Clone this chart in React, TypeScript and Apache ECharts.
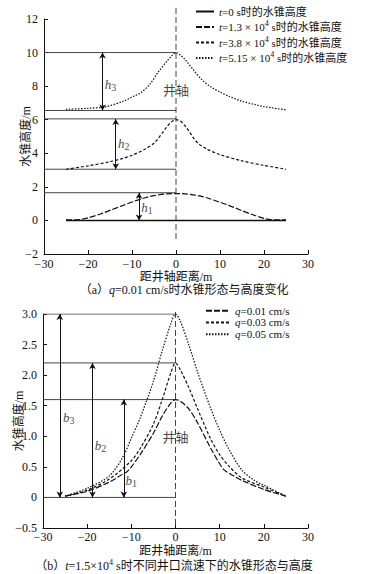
import React, { useEffect, useRef } from "react";
import * as echarts from "echarts";

// ---------- data: chart (a) ----------
const namesA = ["t0", "t13", "t38", "t515"];
const legendTextA = [
  "{i|t}=0 s时的水锥高度",
  "{i|t}=1.3 × 10{sup|4} s时的水锥高度",
  "{i|t}=3.8 × 10{sup|4} s时的水锥高度",
  "{i|t}=5.15 × 10{sup|4} s时的水锥高度",
];
const xA0 = [-25, 25];
const yA0 = [0, 0];
const xA1 = [-25, -22, -20, -17, -15, -12, -10, -7, -5, -2, 0, 2, 5, 7, 10, 12, 15, 17, 20, 22, 25];
const yA1 = [0.03, 0.05, 0.15, 0.4, 0.6, 0.9, 1.1, 1.35, 1.48, 1.58, 1.6, 1.58, 1.48, 1.35, 1.08, 0.9, 0.58, 0.38, 0.12, 0.04, 0.04];
const xA2 = [-25, -20, -15, -12, -10, -7, -5, -4, -3, -2, -1, 0, 1, 2, 3, 4, 5, 7, 10, 15, 20, 25];
const yA2 = [3.05, 3.25, 3.5, 3.7, 3.88, 4.25, 4.6, 4.9, 5.25, 5.6, 5.88, 6.0, 5.92, 5.65, 5.3, 4.9, 4.6, 4.25, 3.92, 3.55, 3.28, 3.05];
const xA3 = [-25, -20, -16, -12, -10, -8, -6, -4, -2, -1, 0, 1, 2, 4, 6, 8, 10, 12, 15, 18, 20, 22, 25];
const yA3 = [6.62, 6.68, 6.77, 7.1, 7.35, 7.6, 8.1, 8.85, 9.5, 9.8, 10.0, 9.85, 9.6, 8.95, 8.35, 7.95, 7.65, 7.4, 7.1, 6.9, 6.78, 6.7, 6.58];
const levelsA = [10, 6.55, 6.05, 3.05, 1.65];
const arrowXA = [-16.7, -13.7, -8.4];
const arrowLowA = [6.55, 3.05, 0];
const arrowHighA = [10, 6.05, 1.65];
const hLabelX = [-16.2, -13.2, -7.9];
const hLabelY = [8.1, 4.56, 0.79];
const hLabelText = ["{hi|h}{sub|3}", "{hi|h}{sub|2}", "{hi|h}{sub|1}"];
const axisLineXA = [0, 0];
const axisLineYA = [-1.1, 12.85];
const wellLabelA = [0, 7.75];

// ---------- data: chart (b) ----------
const namesB = ["q01", "q03", "q05"];
const legendTextB = ["{i|q}=0.01 cm/s", "{i|q}=0.03 cm/s", "{i|q}=0.05 cm/s"];
const xB1 = [-25, -20, -15, -12, -11, -10, -8, -5, -3, -1, 0, 1, 3, 5, 8, 10, 11, 13, 15, 20, 25];
const yB1 = [0.02, 0.1, 0.25, 0.38, 0.42, 0.5, 0.7, 1.05, 1.33, 1.55, 1.6, 1.58, 1.45, 1.22, 0.8, 0.55, 0.45, 0.36, 0.28, 0.13, 0.02];
const xB2 = [-25, -20, -15, -10, -8, -5, -3, -1, 0, 1, 3, 5, 8, 10, 12, 15, 20, 25];
const yB2 = [0.02, 0.12, 0.3, 0.6, 0.8, 1.2, 1.6, 2.05, 2.2, 2.1, 1.8, 1.45, 0.95, 0.7, 0.52, 0.32, 0.17, 0.02];
const xB3 = [-25, -20, -15, -12, -10, -8, -5, -3, -1, 0, 1, 3, 5, 8, 10, 12, 15, 18, 20, 25];
const yB3 = [0.02, 0.15, 0.35, 0.65, 0.97, 1.3, 1.9, 2.4, 2.85, 3.0, 2.9, 2.5, 2.05, 1.45, 1.1, 0.8, 0.45, 0.27, 0.2, 0.02];
const levelsB = [3.0, 2.2, 1.6, 0];
const arrowXB = [-26.2, -18.8, -11.7];
const arrowLowB = [0, 0, 0];
const arrowHighB = [3.0, 2.2, 1.6];
const bLabelX = [-25.5, -18.3, -11.3];
const bLabelY = [1.3, 0.85, 0.27];
const bLabelText = ["{hi|b}{sub|3}", "{hi|b}{sub|2}", "{hi|b}{sub|1}"];
const axisLineXB = [0, 0];
const axisLineYB = [-0.45, 3.05];
const wellLabelB = [0, 0.98];

const FONT = "'Liberation Serif', 'Noto Sans CJK SC', serif";
const INK = "#111";
const REF = "#444";

const zip = (xs: number[], ys: number[]) => xs.map((x, i) => [x, ys[i]]);
const minus = (v: number | string) => String(v).replace("-", "−");

const richBase = (lh: number, fs: number) => ({
  i: { fontStyle: "italic", fontFamily: FONT, fontSize: fs, lineHeight: lh, color: INK },
  sup: { fontSize: fs - 3, fontFamily: FONT, verticalAlign: "top", lineHeight: lh, color: INK },
});

export default function App() {
  const ref = useRef<HTMLDivElement>(null);
  useEffect(() => {
    if (!ref.current) return;
    const chart = echarts.init(ref.current, undefined, { renderer: "svg" });

    const xAxisBase = (gi: number, gap: number, lm: number) => ({
      type: "value",
      gridIndex: gi,
      min: -30,
      max: 30,
      interval: 10,
      name: "距井轴距离/m",
      nameLocation: "middle",
      nameGap: gap,
      nameMoveOverlap: false,
      nameTextStyle: { fontFamily: FONT, fontSize: 12, color: INK },
      axisLine: { onZero: false, lineStyle: { color: INK, width: 1 } },
      axisTick: { inside: true, length: 4, lineStyle: { color: INK } },
      axisLabel: { margin: lm, fontFamily: FONT, fontSize: 12, color: INK, formatter: (v: number) => minus(v) },
      splitLine: { show: false },
    });
    const yAxisBase = (gi: number, min: number, max: number, interval: number, gap: number, fmt: (v: number) => string) => ({
      type: "value",
      gridIndex: gi,
      min,
      max,
      interval,
      name: "水锥高度/m",
      nameLocation: "middle",
      nameRotate: 90,
      nameGap: gap,
      nameMoveOverlap: false,
      nameTextStyle: { fontFamily: FONT, fontSize: 12, color: INK },
      axisLine: { show: true, onZero: false, lineStyle: { color: INK, width: 1 } },
      axisTick: { show: true, inside: true, length: 4, lineStyle: { color: INK } },
      axisLabel: { margin: 6, fontFamily: FONT, fontSize: 12, color: INK, formatter: fmt },
      splitLine: { show: false },
    });

    const curve = (name: string, data: number[][], gi: number, type: any, width = 1.2) => ({
      name,
      type: "line",
      xAxisIndex: gi,
      yAxisIndex: gi,
      data,
      symbol: "none",
      smooth: 0.3,
      lineStyle: { color: INK, width, type },
      itemStyle: { color: INK },
      z: 3,
    });
    const refLine = (y: number, gi: number) => ({
      type: "line",
      xAxisIndex: gi,
      yAxisIndex: gi,
      data: [[-30, y], [0, y]],
      symbol: "none",
      silent: true,
      lineStyle: { color: REF, width: 1 },
      z: 2,
    });
    const arrows = (gi: number, xs: number[], lo: number[], hi: number[]) => ({
      type: "line",
      xAxisIndex: gi,
      yAxisIndex: gi,
      data: [],
      silent: true,
      markLine: {
        silent: true,
        symbol: ["arrow", "arrow"],
        symbolSize: [5, 6],
        label: { show: false },
        lineStyle: { color: INK, width: 1, type: "solid" },
        data: xs.map((x, i) => [{ coord: [x, lo[i]] }, { coord: [x, hi[i]] }]),
      },
    });
    const vline = (gi: number, xs: number[], ys: number[]) => ({
      type: "line",
      xAxisIndex: gi,
      yAxisIndex: gi,
      data: zip(xs, ys),
      symbol: "none",
      clip: false,
      silent: true,
      lineStyle: { color: REF, width: 1, type: [6, 3] },
      z: 1,
    });
    const labels = (gi: number, xs: number[], ys: number[], texts: string[], well: number[]) => ({
      type: "scatter",
      xAxisIndex: gi,
      yAxisIndex: gi,
      symbolSize: 0,
      silent: true,
      z: 5,
      data: [
        ...xs.map((x, i) => ({
          value: [x, ys[i]],
          label: {
            show: true,
            position: "right",
            distance: 0,
            formatter: texts[i],
            rich: {
              hi: { fontStyle: "italic", fontFamily: FONT, fontSize: 13, color: INK, lineHeight: 16 },
              sub: { fontFamily: FONT, fontSize: 10, color: INK, verticalAlign: "bottom", lineHeight: 10 },
            },
          },
        })),
        {
          value: well,
          label: { show: true, position: "inside", formatter: "井轴", fontFamily: FONT, fontSize: 13, color: INK },
        },
      ],
    });

    const legend = (names: string[], texts: string[], left: number, top: number, iw: number, lh: number, fs: number) => ({
      orient: "vertical",
      left,
      top,
      padding: 0,
      itemWidth: iw,
      itemHeight: 8,
      itemGap: 0.5,
      data: names,
      selectedMode: false,
      itemStyle: { color: "rgba(0,0,0,0)", borderColor: "rgba(0,0,0,0)", borderWidth: 0 },
      textStyle: { fontFamily: FONT, fontSize: fs, color: INK, lineHeight: lh, rich: richBase(lh, fs) },
      formatter: (n: string) => texts[names.indexOf(n)],
    });

    const option: any = {
      animation: false,
      backgroundColor: "#fff",
      grid: [
        { left: 44, top: 19, width: 264, height: 235 },
        { left: 43, top: 314, width: 265, height: 214 },
      ],
      xAxis: [xAxisBase(0, 17, 4), xAxisBase(1, 17, 3)],
      yAxis: [
        yAxisBase(0, -2, 12, 2, 12, (v: number) => minus(v)),
        yAxisBase(1, -0.5, 3, 0.5, 18, (v: number) => (v === 0 ? "0" : minus(v.toFixed(1)))),
      ],
      legend: [
        legend(namesA, legendTextA, 195, 4, 18, 15, 11),
        legend(namesB, legendTextB, 205, 305, 24, 11.3, 11),
      ],
      graphic: [
        {
          type: "text",
          x: 184,
          y: 289.5,
          style: {
            text: "（a）{i|q}=0.01 cm/s时水锥形态与高度变化",
            fontFamily: FONT,
            fontSize: 12,
            fill: INK,
            align: "center",
            verticalAlign: "middle",
            rich: { i: { fontStyle: "italic", fontFamily: FONT, fontSize: 12 } },
          },
        },
        {
          type: "text",
          x: 174,
          y: 566,
          style: {
            text: "（b）{i|t}=1.5×10{sup|4} s时不同井口流速下的水锥形态与高度",
            fontFamily: FONT,
            fontSize: 12,
            fill: INK,
            align: "center",
            verticalAlign: "middle",
            rich: {
              i: { fontStyle: "italic", fontFamily: FONT, fontSize: 12, lineHeight: 15 },
              sup: { fontFamily: FONT, fontSize: 8, verticalAlign: "top", lineHeight: 15 },
            },
          },
        },
      ],
      series: [
        curve(namesA[0], zip(xA0, yA0), 0, "solid", 1.4),
        curve(namesA[1], zip(xA1, yA1), 0, [6, 2]),
        curve(namesA[2], zip(xA2, yA2), 0, [3, 2]),
        curve(namesA[3], zip(xA3, yA3), 0, [1.5, 1.5]),
        ...levelsA.map((y) => refLine(y, 0)),
        arrows(0, arrowXA, arrowLowA, arrowHighA),
        vline(0, axisLineXA, axisLineYA),
        labels(0, hLabelX, hLabelY, hLabelText, wellLabelA),
        curve(namesB[0], zip(xB1, yB1), 1, [6, 2]),
        curve(namesB[1], zip(xB2, yB2), 1, [3, 2]),
        curve(namesB[2], zip(xB3, yB3), 1, [1.5, 1.5]),
        ...levelsB.map((y) => refLine(y, 1)),
        arrows(1, arrowXB, arrowLowB, arrowHighB),
        vline(1, axisLineXB, axisLineYB),
        labels(1, bLabelX, bLabelY, bLabelText, wellLabelB),
      ],
    };
    chart.setOption(option);
    return () => chart.dispose();
  }, []);
  return <div ref={ref} style={{ position: "absolute", left: 0, top: 0, width: 368, height: 574 }} />;
}
